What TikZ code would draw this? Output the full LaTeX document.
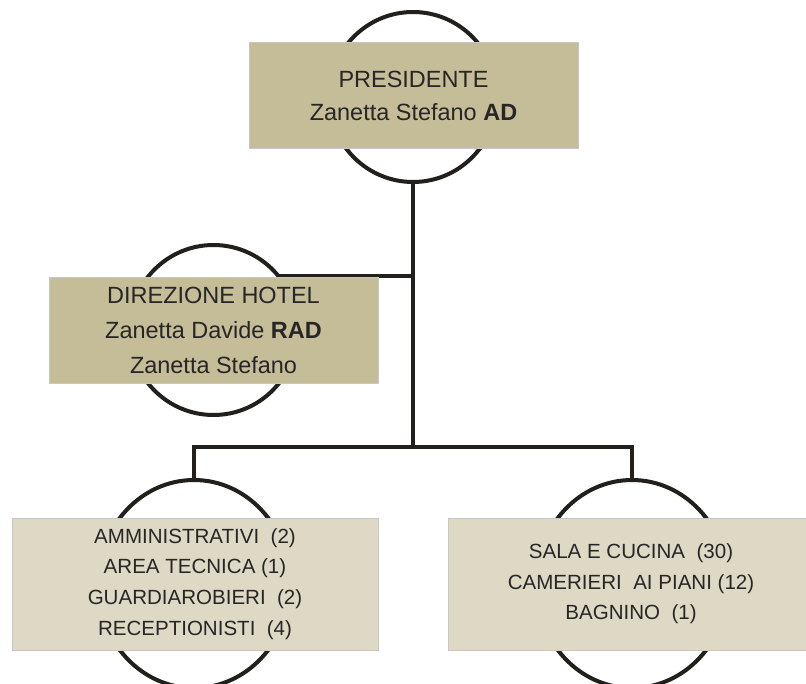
\documentclass[tikz,border=0pt]{standalone}
\usepackage{fontspec}
\setmainfont{Liberation Sans}
\usetikzlibrary{shapes.geometric}
\definecolor{tanD}{HTML}{C4BD97}
\definecolor{tanL}{HTML}{DDD9C4}
\definecolor{lineC}{HTML}{231F1A}
\definecolor{txtC}{HTML}{262626}
\begin{document}
\begin{tikzpicture}[x=0.75pt,y=-0.75pt,
  ring/.style={ellipse, draw=lineC, line width=3pt, fill=white, inner sep=0pt, outer sep=0pt},
  conn/.style={draw=lineC, line width=3pt},
  boxbase/.style={rectangle, draw=black!22, line width=0.5pt, align=center, text=txtC, inner sep=0pt},
  boxD/.style={boxbase, fill=tanD, minimum width=246.75pt, minimum height=79pt},
  boxL/.style={boxbase, fill=tanL, minimum width=274.5pt, minimum height=99pt, font=\fontsize{15.4pt}{23pt}\selectfont}
]
\fill[white] (0,0) rectangle (806,684);
\useasboundingbox (0,0) rectangle (806,684);
\clip (0,0) rectangle (806,684);
% connector points
\coordinate (j1) at (413,276);
\coordinate (j2) at (413,447);
% ellipse positions (for connectors)
\coordinate (c1) at (413,97);
\coordinate (c2) at (213.5,330);
\coordinate (c3) at (194,584);
\coordinate (c4) at (632,584);
% connectors (behind rings)
\draw[conn] (c1) -- (j2);
\draw[conn] (j1) -- (c2 |- j1);
\draw[conn, line join=miter] (c3) -- (c3 |- j2) -- (c4 |- j2) -- (c4);
% rings
\node[ring, minimum width=126pt, minimum height=127.5pt] (e1) at (c1) {};
\node[ring, minimum width=126pt, minimum height=127.5pt] (e2) at (c2) {};
\node[ring, minimum width=144pt, minimum height=156pt] (e3) at (c3) {};
\node[ring, minimum width=144pt, minimum height=156pt] (e4) at (c4) {};
% boxes
\node[boxD, font=\fontsize{17.6pt}{24.75pt}\selectfont] (b1) at (413.5,95.5)
  {PRESIDENTE\\Zanetta Stefano \textbf{AD}};
\node[boxD, minimum height=79.5pt, font=\fontsize{17.6pt}{26.25pt}\selectfont] (b2) at (213.5,330)
  {DIREZIONE HOTEL\\Zanetta Davide \textbf{RAD}\\Zanetta Stefano};
\node[boxL] (b3) at (195,584)
  {AMMINISTRATIVI~~(2)\\AREA TECNICA (1)\\GUARDIAROBIERI~~(2)\\RECEPTIONISTI~~(4)};
\node[boxL] (b4) at (631,584)
  {SALA E CUCINA~~(30)\\CAMERIERI~~AI PIANI (12)\\BAGNINO~~(1)};
\end{tikzpicture}
\end{document}
